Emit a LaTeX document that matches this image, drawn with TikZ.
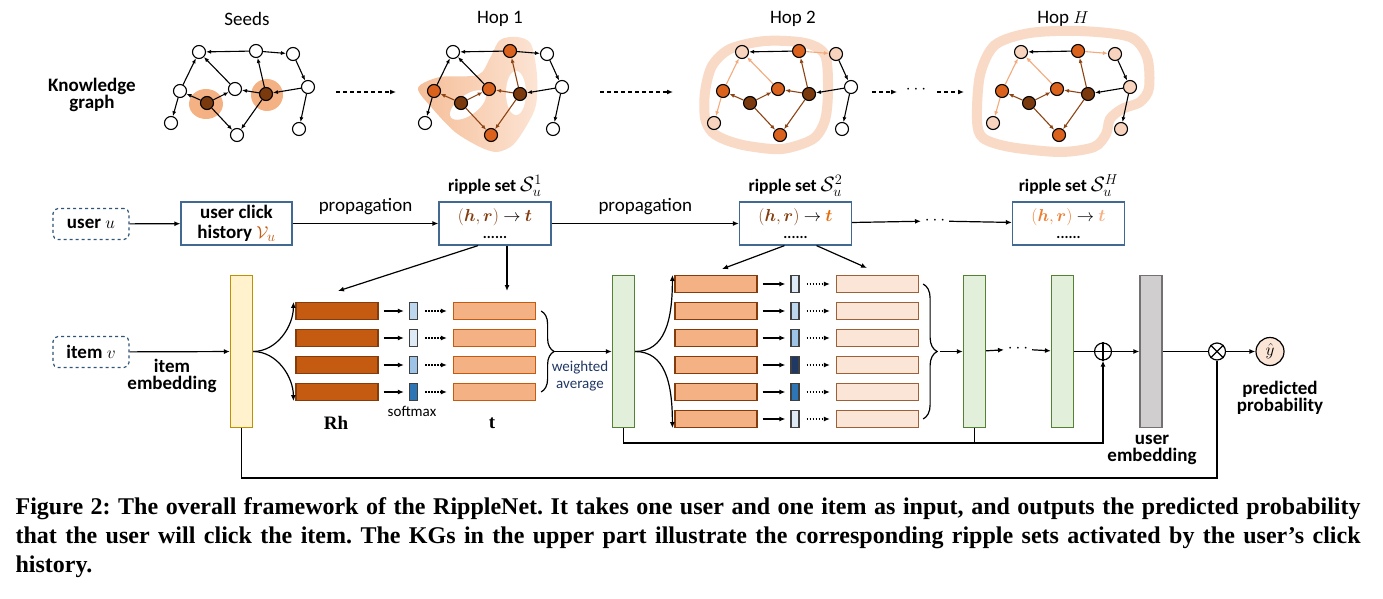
\documentclass[tikz,border=0pt]{standalone}
\usepackage{fontspec}
\setmainfont{Carlito}
\newfontfamily\capfont{Liberation Serif}
\usepackage{bm}
\usetikzlibrary{arrows.meta,positioning,decorations.pathreplacing}

\definecolor{seedc}{RGB}{122,58,14}
\definecolor{hopone}{RGB}{218,98,28}
\definecolor{hoptwo}{RGB}{248,212,190}
\definecolor{brownedge}{RGB}{140,68,20}
\definecolor{lightedge}{RGB}{244,170,125}
\definecolor{halo}{RGB}{244,177,131}
\definecolor{ringc}{RGB}{249,218,198}
\definecolor{blobl}{RGB}{245,190,152}
\definecolor{blobm}{RGB}{234,142,88}
\definecolor{blobr}{RGB}{252,228,212}
\definecolor{boxblue}{RGB}{65,105,145}
\definecolor{dashblue}{RGB}{47,85,120}
\definecolor{rhfill}{RGB}{197,90,17}
\definecolor{rhdraw}{RGB}{132,60,12}
\definecolor{tfill}{RGB}{244,177,131}
\definecolor{ttfill}{RGB}{251,229,214}
\definecolor{torange}{RGB}{228,108,10}
\definecolor{hrorange}{RGB}{237,125,49}
\definecolor{ybar}{RGB}{255,242,204}
\definecolor{ybardraw}{RGB}{191,144,0}
\definecolor{gbar}{RGB}{226,239,218}
\definecolor{gbardraw}{RGB}{84,130,53}
\definecolor{graybar}{RGB}{208,206,206}
\definecolor{graydraw}{RGB}{118,113,113}
\definecolor{sma}{RGB}{189,215,238}
\definecolor{smb}{RGB}{222,235,247}
\definecolor{smc}{RGB}{157,195,230}
\definecolor{smd}{RGB}{46,117,182}
\definecolor{sme}{RGB}{31,56,100}
\definecolor{avgtext}{RGB}{32,56,100}

\tikzset{
  kgnode/.style={circle, draw, line width=1.1pt, fill=white, minimum size=13pt, inner sep=0pt},
  seedn/.style={fill=seedc},
  hopa/.style={fill=hopone},
  hopb/.style={fill=hoptwo},
  kgedge/.style={-{Latex[length=5pt,width=4pt]}, line width=1.1pt},
  seedset/.style={k7/.style=seedn, k8/.style=seedn},
  hoponeset/.style={seedset, k2/.style=hopa, k5/.style=hopa, k6/.style=hopa, k10/.style=hopa,
    e7-5/.style={draw=brownedge}, e7-6/.style={draw=brownedge}, e7-10/.style={draw=brownedge},
    e8-6/.style={draw=brownedge}, e8-2/.style={draw=brownedge}, e8-10/.style={draw=brownedge}},
  hoptwoset/.style={hoponeset, k1/.style=hopb, k3/.style=hopb, k9/.style=hopb,
    e5-1/.style={draw=lightedge}, e5-9/.style={draw=lightedge}, e6-1/.style={draw=lightedge},
    e2-3/.style={draw=lightedge}},
  hophset/.style={hoptwoset, k4/.style=hopb, k11/.style=hopb},
  lbl/.style={font=\fontsize{19}{20}\selectfont},
  blbl/.style={font=\bfseries\fontsize{19}{16.5}\selectfont},
  tlbl/.style={font=\bfseries\fontsize{17.5}{18}\selectfont, inner sep=1pt},
  smlbl/.style={font=\fontsize{15}{17}\selectfont},
  serlbl/.style={font=\capfont\bfseries\fontsize{19}{20}\selectfont},
  dashbox/.style={draw=dashblue, dashed, rounded corners=5pt, minimum width=76pt, minimum height=31pt,
    font=\bfseries\fontsize{19}{20}\selectfont},
  histbox/.style={draw=boxblue, minimum width=111pt, minimum height=43pt, align=center, inner sep=1pt,
    font=\bfseries\fontsize{19}{20}\selectfont},
  ripbox/.style={draw=boxblue, minimum width=112pt, minimum height=43pt, align=center, inner sep=1pt,
    font=\fontsize{19}{17}\selectfont},
  embar/.style={draw, minimum width=22pt, minimum height=152pt, inner sep=0pt},
  vec/.style={draw, minimum width=82pt, minimum height=17pt, inner sep=0pt},
  smx/.style={draw=black!75, minimum width=8pt, minimum height=17pt, inner sep=0pt},
  shortarr/.style={->, shorten <=5pt, shorten >=5pt},
  dotarr/.style={->, dash pattern=on 1.5pt off 1.5pt, shorten <=7pt, shorten >=6pt},
  dasharr/.style={->, dash pattern=on 4pt off 3pt},
  capline/.style={anchor=base west, inner sep=0pt, font=\capfont\bfseries\fontsize{24}{29}\selectfont},
}

\newcommand{\ripdots}{{\bfseries\fontsize{15}{15}\selectfont ......}}
\newcommand{\ripset}[1]{ripple set {\fontsize{21}{21}\selectfont$\mathcal{S}_u^{#1}$}}

% one knowledge graph: #1 name prefix, #2 x offset
\newcommand{\kgraph}[2]{%
  \foreach \n/\x/\y in {1/199/52, 2/256/51, 3/293/54, 4/308/87, 5/180/91, 6/235/89,
                        7/207/103, 8/266/94, 9/171/123, 10/237/135, 11/299/129}
    \node[kgnode, k\n/.try] (#1\n) at (\x+#2,\y) {};
  \foreach \a/\b in {2/1, 2/3, 3/4, 4/8, 4/11, 5/1, 5/9, 6/1, 7/5, 7/6, 7/10, 8/6, 8/2, 8/10}
    \draw[kgedge, e\a-\b/.try] (#1\a) -- (#1\b);
}

\begin{document}
\frenchspacing
\begin{tikzpicture}[x=1pt, y=-1pt, line width=1.2pt, >={Latex[length=6pt,width=5pt]}]
  \useasboundingbox (0,0) rectangle (1383,599);

  % knowledge graphs
  \node[blbl, align=center] (kglbl) at (92,95) {Knowledge\\graph};
  \node[lbl] (seedlbl) at (247,19) {Seeds};
  \node[lbl] (hopalbl) at (500,19) {Hop 1};
  \node[lbl] (hopblbl) at (793,19) {Hop 2};
  \node[lbl] (hophlbl) at (1063,19) {Hop $H$};

  \fill[halo] (206,104) ellipse (17pt and 15pt);
  \fill[halo] (267,95) ellipse (16pt and 16pt);
  \shade[left color=blobl, middle color=blobm, right color=blobr] plot[smooth cycle] coordinates
    {(418,88) (440,77) (478,75) (490,58) (500,40) (517,37) (531,44) (537,75) (536,105)
     (527,125) (513,145) (497,152) (480,147) (455,132) (432,108)};
  \fill[white, rotate around={36:(468,105)}] (468,105) ellipse (21pt and 10pt);
  \fill[white] (516,93) ellipse (10pt and 22pt);
  \draw[ringc, line width=10pt] plot[smooth cycle] coordinates
    {(705,118) (705,92) (712,66) (730,49) (765,41) (805,43) (825,55) (828,90) (825,120)
     (813,139) (782,149) (748,146) (726,140) (712,132)};
  \draw[ringc, line width=10pt] plot[smooth cycle] coordinates
    {(977,120) (980,75) (995,45) (1030,33) (1080,31) (1130,37) (1147,57) (1149,88) (1140,102)
     (1122,109) (1110,119) (1106,134) (1094,147) (1060,152) (1010,147) (983,138)};

  \begin{scope}[seedset] \kgraph{s}{0} \end{scope}
  \begin{scope}[hoponeset] \kgraph{a}{254} \end{scope}
  \begin{scope}[hoptwoset] \kgraph{b}{543} \end{scope}
  \begin{scope}[hophset] \kgraph{c}{822} \end{scope}

  \coordinate (da1) at (336,92); \coordinate (da2) at (396,92);
  \coordinate (db1) at (600,92); \coordinate (db2) at (673,92);
  \coordinate (dc1) at (872,92); \coordinate (dc2) at (897,92);
  \coordinate (dd1) at (937,92); \coordinate (dd2) at (964,92);
  \node[font=\fontsize{16}{16}\selectfont] (kgdots) at (916,90) {$\cdots$};
  \draw[dasharr] (da1) -- (da2);
  \draw[dasharr] (db1) -- (db2);
  \draw[dasharr] (dc1) -- (dc2);
  \draw[dasharr] (dd1) -- (dd2);

  % ripple sets
  \node[dashbox] (useru) at (91,224) {user $u$};
  \node[histbox] (hist) at (236.5,223.5) {user click\\history {\color{rhfill}$\mathcal{V}_u$}};
  \node[ripbox] (box1) at (495,223.5)
    {{\color{rhdraw}$(\bm{h},\bm{r})$} $\rightarrow$ {\color{rhdraw}$\bm{t}$}\\ \ripdots};
  \node[ripbox] (box2) at (795.5,223.5)
    {{\color{rhdraw}$(\bm{h},\bm{r})$} $\rightarrow$ {\color{torange}$\bm{t}$}\\ \ripdots};
  \node[ripbox] (boxh) at (1068.5,223.5)
    {{\color{hrorange}$(\bm{h},\bm{r})$} $\rightarrow$ {\color{tfill}$\bm{t}$}\\ \ripdots};
  \node[tlbl, above=3pt of box1] (title1) {\ripset{1}};
  \node[tlbl, above=3pt of box2] (title2) {\ripset{2}};
  \node[tlbl, above=3pt of boxh] (titleh) {\ripset{H}};
  \node[font=\fontsize{16}{16}\selectfont] (rdots) at (935,221) {$\cdots$};
  \draw[->] (useru) -- (hist);
  \draw[->] (hist) -- node[lbl, above=5pt] {propagation} (box1);
  \draw[->] (box1) -- node[lbl, above=5pt] {propagation} (box2);
  \draw[->] (box2) -- (rdots);
  \draw[->] (rdots) -- (boxh);

  % item side and hop 1
  \node[dashbox] (itemv) at (91,352) {item $v$};
  \node[embar, fill=ybar, draw=ybardraw] (ibar) at (241.5,351.5) {};
  \node[blbl, align=center] (iemb) at (172,376) {item\\embedding};
  \draw[->] (itemv) -- (ibar);
  \foreach \k/\col in {1/sma, 2/smb, 3/smc, 4/smd} {
    \node[vec, fill=rhfill, draw=rhdraw] (rh\k) at (337,284+27*\k) {};
    \node[smx, fill=\col] (sa\k) at (413.5,284+27*\k) {};
    \node[vec, fill=tfill, draw=rhfill] (ta\k) at (494.5,284+27*\k) {};
    \draw[shortarr] (rh\k) -- (sa\k);
    \draw[dotarr] (sa\k) -- (ta\k);
  }
  \draw[->] (ibar.east) .. controls +(24,0) and +(0,24) .. ([xshift=-2pt]rh1.north west);
  \draw[->] (ibar.east) .. controls +(24,0) and +(0,-24) .. ([xshift=-2pt]rh4.south west);
  \coordinate (rhin) at (338,291);
  \coordinate (tin) at (507,291);
  \draw[->] ([xshift=-17pt]box1.south) -- (rhin);
  \draw[->] ([xshift=12pt]box1.south) -- (tin);
  \node[serlbl] (rhlbl) at (336,423) {Rh};
  \node[smlbl] (smlbl1) at (412,411) {softmax};
  \node[serlbl] (tlbl) at (492,423) {t};
  \draw[decorate, decoration={brace, amplitude=13pt}] ([xshift=5pt]ta1.east) -- ([xshift=5pt]ta4.east);
  \coordinate (bra1) at (555,351.5);
  \node[embar, fill=gbar, draw=gbardraw] (gbar1) at (623.5,351.5) {};
  \draw[->] (bra1) -- (gbar1);
  \node[smlbl, text=avgtext, align=center] (wavg) at (580,376) {weighted\\average};

  % hop 2
  \foreach \k/\col in {0/smb, 1/sma, 2/smc, 3/sme, 4/smd, 5/smb} {
    \node[vec, fill=tfill, draw=rhdraw] (rb\k) at (716,284+27*\k) {};
    \node[smx, fill=\col] (sb\k) at (795,284+27*\k) {};
    \node[vec, fill=ttfill, draw=brownedge!85] (tb\k) at (877.5,284+27*\k) {};
    \draw[shortarr] (rb\k) -- (sb\k);
    \draw[dotarr] (sb\k) -- (tb\k);
  }
  \draw[->] (gbar1.east) .. controls +(30,0) and +(0,45) .. ([xshift=-2pt]rb0.north west);
  \draw[->] (gbar1.east) .. controls +(30,0) and +(0,-45) .. ([xshift=-2pt]rb5.south west);
  \coordinate (rbin) at (722,269);
  \coordinate (tbin) at (867,268);
  \draw[->] ([xshift=-11pt]box2.south) -- (rbin);
  \draw[->] ([xshift=21pt]box2.south) -- (tbin);
  \draw[decorate, decoration={brace, amplitude=14pt}] ([xshift=4pt]tb0.east) -- ([xshift=4pt]tb5.east);
  \coordinate (bra2) at (940,351.5);
  \node[embar, fill=gbar, draw=gbardraw] (gbar2) at (974.5,351.5) {};
  \draw[->] (bra2) -- (gbar2);

  % output
  \node[font=\fontsize{16}{16}\selectfont] (gdots) at (1018,349) {$\cdots$};
  \node[embar, fill=gbar, draw=gbardraw] (gbar3) at (1062.5,351.5) {};
  \node[circle, draw, minimum size=17pt, inner sep=0pt] (oplus) at (1103,351.5) {};
  \draw (oplus.north) -- (oplus.south) (oplus.west) -- (oplus.east);
  \node[embar, fill=graybar, draw=graydraw] (ubar) at (1151,351.5) {};
  \node[circle, draw, minimum size=17pt, inner sep=0pt] (otimes) at (1217,351.5) {};
  \draw (otimes.north west) -- (otimes.south east) (otimes.north east) -- (otimes.south west);
  \node[circle, draw, fill=ttfill, minimum size=28pt, inner sep=0pt, font=\fontsize{19}{20}\selectfont] (yhat) at (1270,351.5) {$\hat{y}$};
  \draw[->] (gbar2) -- (gdots);
  \draw[->] (gdots) -- (gbar3);
  \draw (gbar3) -- (oplus);
  \draw[->] (oplus) -- (ubar);
  \draw (ubar) -- (otimes);
  \draw[->] (otimes) -- (yhat);
  \node[blbl, align=center] (ulbl) at (1152,450) {user\\embedding};
  \node[blbl, align=center] (plbl) at (1280,398) {predicted\\probability};
  \coordinate (lowa) at (1103,443);
  \coordinate (lowb) at (1217,478);
  \draw[->] (gbar1.south) |- (lowa) -- (oplus.south);
  \draw (gbar2.south) -- (gbar2.south |- lowa);
  \draw (ibar.south) |- (lowb) -- (otimes.south);

  % caption
  \node[capline] (cap1) at (15,514) {\makebox[1345pt][s]{Figure 2: The overall framework of the RippleNet. It takes one user and one item as input, and outputs the predicted probability}};
  \node[capline] (cap2) at (15,543) {\makebox[1345pt][s]{that the user will click the item. The KGs in the upper part illustrate the corresponding ripple sets activated by the user’s click}};
  \node[capline] (cap3) at (15,572) {history.};
\end{tikzpicture}
\end{document}
